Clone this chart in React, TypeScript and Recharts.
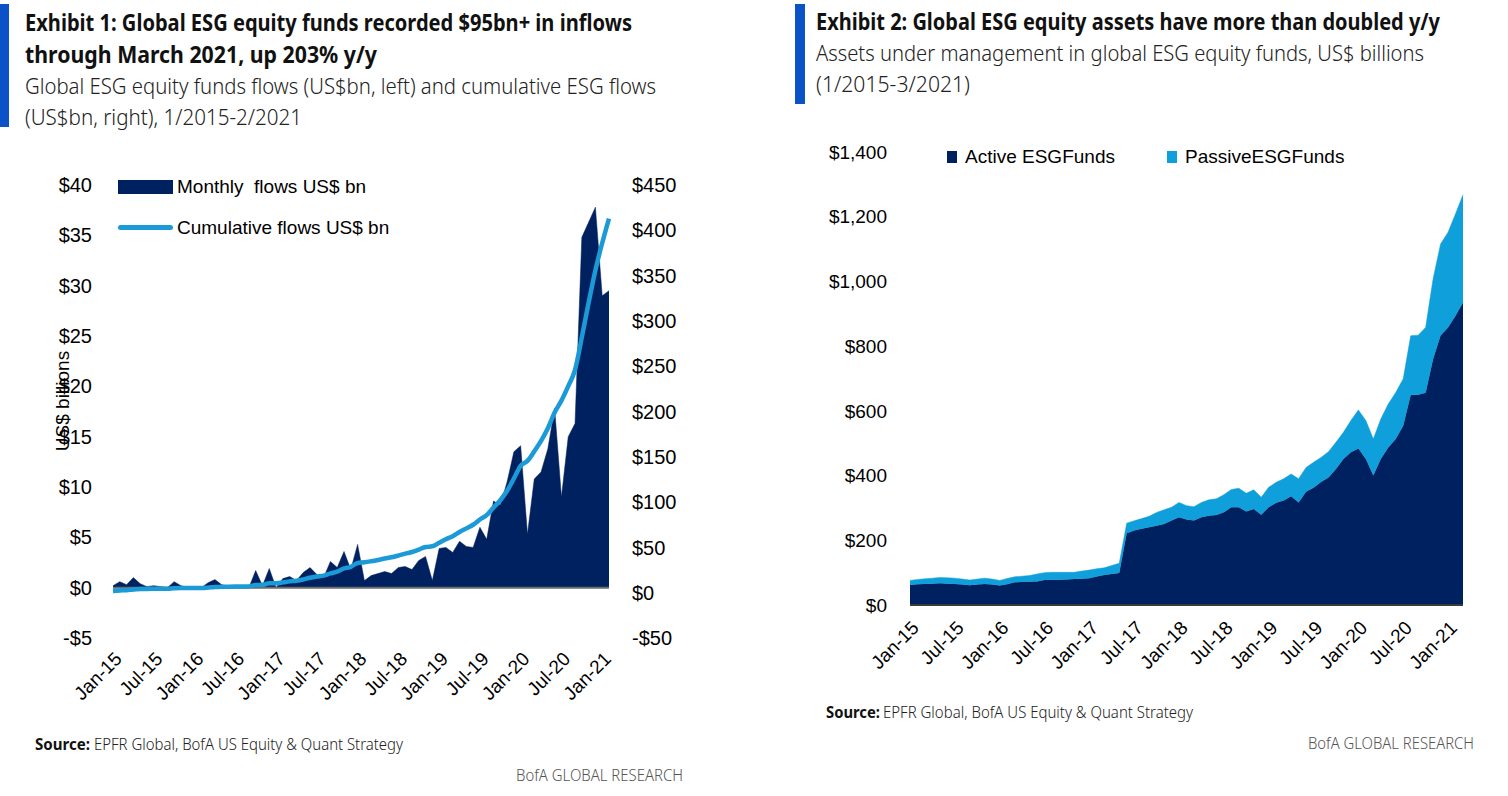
import React from 'react';
import { ComposedChart, AreaChart, Area, Line, XAxis, YAxis, ReferenceLine, Legend } from 'recharts';

const NAVY = '#00215f';
const LIGHT = '#0f9fdb';
const LINE_BLUE = '#1b9ad7';
const FONT = '"Liberation Sans", Arial, sans-serif';
const TITLE_FONT = '"Noto Sans", "Open Sans", sans-serif';

const MONTH_NAMES = ['Jan', 'Feb', 'Mar', 'Apr', 'May', 'Jun', 'Jul', 'Aug', 'Sep', 'Oct', 'Nov', 'Dec'];
const months = (count: number) =>
  Array.from({ length: count }, (_, i) => `${MONTH_NAMES[i % 12]}-${15 + Math.floor(i / 12)}`);

const TICK_LABELS = ['Jan-15', 'Jul-15', 'Jan-16', 'Jul-16', 'Jan-17', 'Jul-17', 'Jan-18', 'Jul-18', 'Jan-19', 'Jul-19', 'Jan-20', 'Jul-20', 'Jan-21'];

// Exhibit 1: Jan-15 .. Feb-21
const FLOW_MONTHS = months(74);
const MONTHLY_FLOWS = [
  0.2, 0.6, 0.3, 1.0, 0.4, 0.1, 0.2, 0.1, 0.0, 0.6,
  0.2, 0.0, 0.0, 0.0, 0.5, 0.8, 0.3, 0.1, 0.1, 0.1,
  0.0, 1.7, 0.2, 1.9, 0.0, 0.9, 1.1, 0.7, 1.5, 2.0,
  1.3, 1.0, 2.6, 2.0, 3.6, 1.8, 4.3, 0.7, 1.2, 1.4,
  1.6, 1.4, 2.0, 2.1, 1.8, 2.7, 3.1, 0.7, 3.9, 4.0,
  3.5, 4.6, 4.1, 4.0, 6.0, 4.8, 8.6, 8.2, 10.5, 13.5,
  14.1, 5.3, 10.8, 11.5, 13.8, 17.8, 9.0, 15.0, 16.3, 34.8,
  36.3, 37.8, 29.0, 29.5,
];
const CUMULATIVE_FLOWS = [
  2.0, 2.5, 2.8, 3.6, 4.0, 4.1, 4.3, 4.4, 4.4, 4.9,
  5.1, 5.1, 5.1, 5.1, 5.6, 6.3, 6.6, 6.7, 6.8, 6.9,
  6.9, 8.5, 8.7, 10.5, 10.5, 11.4, 12.5, 13.2, 14.6, 16.5,
  17.8, 18.8, 21.3, 23.3, 26.8, 28.6, 32.8, 33.5, 34.7, 36.1,
  37.7, 39.1, 41.0, 43.1, 44.9, 47.5, 50.5, 51.2, 55.0, 59.0,
  62.4, 67.0, 71.0, 75.0, 80.8, 85.6, 94.0, 102.0, 112.5, 126.0,
  140.0, 145.5, 156.0, 167.5, 181.5, 199.0, 212.0, 228.0, 246.0, 282.0,
  320.0, 356.0, 386.0, 413.0,
];
const FLOW_TICKS = [-5, 0, 5, 10, 15, 20, 25, 30, 35, 40];
const CUM_TICKS = [-50, 0, 50, 100, 150, 200, 250, 300, 350, 400, 450];

// Exhibit 2: Jan-15 .. Mar-21
const AUM_MONTHS = months(75);
const ACTIVE_AUM = [
  62, 64, 65, 66, 67, 66, 65, 63, 61, 63,
  65, 63, 60, 64, 70, 71, 72, 73, 77, 78,
  78, 79, 80, 81, 83, 88, 93, 96, 99, 222,
  230, 236, 240, 245, 250, 261, 271, 264, 261, 271,
  276, 278, 287, 302, 302, 289, 297, 279, 302, 316,
  323, 336, 317, 350, 362, 380, 394, 420, 451, 472,
  484, 451, 400, 451, 487, 513, 554, 649, 650, 656,
  760, 833, 858, 894, 935,
];
const PASSIVE_AUM = [
  14, 15, 16, 17, 18, 18, 18, 17, 16, 17,
  18, 17, 16, 18, 17, 18, 19, 23, 23, 23,
  23, 22, 21, 24, 25, 24, 22, 26, 30, 31,
  30, 31, 34, 41, 44, 41, 46, 43, 43, 46,
  49, 50, 54, 55, 59, 56, 59, 54, 62, 63,
  67, 69, 73, 75, 79, 76, 80, 83, 83, 98,
  119, 119, 113, 124, 134, 144, 145, 183, 184, 202,
  248, 283, 294, 315, 333,
];
const AUM_TICKS = [0, 200, 400, 600, 800, 1000, 1200, 1400];

const flowData = FLOW_MONTHS.map((m, i) => ({ m, flow: MONTHLY_FLOWS[i], cum: CUMULATIVE_FLOWS[i] }));
const aumData = AUM_MONTHS.map((m, i) => ({ m, active: ACTIVE_AUM[i], passive: PASSIVE_AUM[i] }));

const dollar = (v: number) => (v < 0 ? `-$${Math.abs(v).toLocaleString('en-US')}` : `$${v.toLocaleString('en-US')}`);

const DiagTick = (props: any) => {
  const { x, y, payload, size } = props;
  return (
    <g transform={`translate(${x},${y})`}>
      <text transform="rotate(-45)" x={0} y={0} dy={size * 0.75} textAnchor="end" fontSize={size} fill="#000" fontFamily={FONT}>
        {payload.value}
      </text>
    </g>
  );
};

// area swatch first, line second, as in the original legend
const FlowLegend = (props: any) => {
  const items = [...(props.payload || [])].sort((a: any, b: any) => (a.type === 'line' ? 1 : 0) - (b.type === 'line' ? 1 : 0));
  return (
    <div style={{ fontFamily: FONT, fontSize: 19, color: '#000' }}>
      {items.map((it: any) => (
        <div key={it.value} style={{ display: 'flex', alignItems: 'center', height: 41 }}>
          {it.type === 'line' ? (
            <span style={{ display: 'inline-block', width: 55, height: 5, borderRadius: 3, background: it.color, marginRight: 4 }} />
          ) : (
            <span style={{ display: 'inline-block', width: 55, height: 14, background: it.color, marginRight: 4 }} />
          )}
          <span style={{ whiteSpace: 'pre' }}>{it.value}</span>
        </div>
      ))}
    </div>
  );
};

const AumLegend = (props: any) => {
  const items = props.payload || [];
  return (
    <div style={{ fontFamily: FONT, fontSize: 19, color: '#000', display: 'flex' }}>
      {items.map((it: any, i: number) => (
        <div key={it.value} style={{ display: 'flex', alignItems: 'center', marginRight: i === 0 ? 52 : 0 }}>
          <span style={{ display: 'inline-block', width: 10, height: 12, background: it.color, marginRight: 8 }} />
          <span>{it.value}</span>
        </div>
      ))}
    </div>
  );
};

// condensed heading text: squeezed horizontally to the width it has in the original
const T = (p: any) => {
  const { x, y, len, size, weight, fill, children } = p;
  const sx = weight >= 700 ? 0.75 : 0.8;
  return (
    <g transform={`translate(${x},${y}) scale(${sx},1)`}>
      <text x={0} y={0} textLength={len / sx} lengthAdjust="spacingAndGlyphs" fontSize={size} fontWeight={weight}
        fill={fill} fontFamily={TITLE_FONT}>
        {children}
      </text>
    </g>
  );
};

export default function App() {
  return (
    <div style={{ position: 'absolute', left: 0, top: 0, width: 1508, height: 796, background: '#fff', overflow: 'hidden' }}>
      <div style={{ position: 'absolute', left: 0, top: 0 }}>
        <ComposedChart width={700} height={796} data={flowData} margin={{ top: 185, right: 0, bottom: 0, left: 0 }}>
          <XAxis dataKey="m" ticks={TICK_LABELS} interval={0} height={158} axisLine={false} tickLine={false}
            tickMargin={6} tick={<DiagTick size={19} />} />
          <YAxis yAxisId="left" width={113} domain={[-5, 40]} ticks={FLOW_TICKS} tickFormatter={dollar}
            axisLine={false} tickLine={false} tickMargin={15} tick={{ fontSize: 20, fill: '#000', fontFamily: FONT }} />
          <YAxis yAxisId="right" orientation="right" width={91} domain={[-50, 450]} ticks={CUM_TICKS} tickFormatter={dollar}
            axisLine={false} tickLine={false} tickMargin={17} tick={{ fontSize: 20, fill: '#000', fontFamily: FONT, textAnchor: 'start' }} />
          <Legend layout="vertical" align="center" verticalAlign="middle" content={<FlowLegend />}
            wrapperStyle={{ top: 166, left: 118, width: 320, height: 90 }} />
          <Area yAxisId="left" type="linear" dataKey="flow" name="Monthly  flows US$ bn" fill={NAVY} stroke={NAVY}
            strokeWidth={0.5} fillOpacity={1} isAnimationActive={false} legendType="rect" />
          <ReferenceLine yAxisId="left" y={0} stroke="#6b6b6b" strokeWidth={2} />
          <Line yAxisId="right" type="monotone" dataKey="cum" name="Cumulative flows US$ bn" stroke={LINE_BLUE}
            strokeWidth={4.5} dot={false} isAnimationActive={false} legendType="line" />
        </ComposedChart>
      </div>

      <div style={{ position: 'absolute', left: 790, top: 0 }}>
        <AreaChart width={718} height={796} data={aumData} margin={{ top: 152, right: 45, bottom: 0, left: 0 }}>
          <XAxis dataKey="m" ticks={TICK_LABELS} interval={0} height={191} axisLine={{ stroke: '#3a3a3a', strokeWidth: 2 }}
            tickLine={false} tickMargin={8} tick={<DiagTick size={19} />} />
          <YAxis width={120} domain={[0, 1400]} ticks={AUM_TICKS} tickFormatter={dollar} axisLine={false} tickLine={false}
            tickMargin={17} tick={{ fontSize: 19, fill: '#000', fontFamily: FONT }} />
          <Legend layout="vertical" align="center" verticalAlign="middle" content={<AumLegend />}
            wrapperStyle={{ top: 146, left: 157, width: 420, height: 26 }} />
          <Area type="linear" dataKey="active" name="Active ESGFunds" stackId="a" fill={NAVY} stroke={NAVY}
            strokeWidth={0.5} fillOpacity={1} isAnimationActive={false} legendType="square" />
          <Area type="linear" dataKey="passive" name="PassiveESGFunds" stackId="a" fill={LIGHT} stroke={LIGHT}
            strokeWidth={0.5} fillOpacity={1} isAnimationActive={false} legendType="square" />
        </AreaChart>
      </div>

      <svg width={1508} height={796} style={{ position: 'absolute', left: 0, top: 0, pointerEvents: 'none' }}>
        <rect x={0} y={4} width={9} height={123} fill="#0b52c9" />
        <rect x={795} y={4} width={10} height={100} fill="#0b52c9" />

        <T x={25} y={31} len={607} size={24} weight={700} fill="#111">Exhibit 1: Global ESG equity funds recorded $95bn+ in inflows</T>
        <T x={25} y={63} len={352} size={24} weight={700} fill="#111">through March 2021, up 203% y/y</T>
        <T x={25} y={94} len={631} size={22} weight={300} fill="#222">Global ESG equity funds flows (US$bn, left) and cumulative ESG flows</T>
        <T x={25} y={125} len={277} size={22} weight={300} fill="#222">(US$bn, right), 1/2015-2/2021</T>

        <T x={816} y={30} len={624} size={24} weight={700} fill="#111">Exhibit 2: Global ESG equity assets have more than doubled y/y</T>
        <T x={816} y={61} len={608} size={22} weight={300} fill="#222">Assets under management in global ESG equity funds, US$ billions</T>
        <T x={816} y={92} len={154} size={22} weight={300} fill="#222">(1/2015-3/2021)</T>

        <text transform="translate(69,401) rotate(-90)" textAnchor="middle" fontSize={19} fontFamily={FONT} fill="#000">US$ billions</text>

        <T x={35} y={750} len={55} size={16} weight={700} fill="#111">Source:</T>
        <T x={94} y={750} len={309} size={16} weight={300} fill="#222">EPFR Global, BofA US Equity &amp; Quant Strategy</T>
        <T x={516} y={781} len={167} size={16} weight={300} fill="#555">BofA GLOBAL RESEARCH</T>

        <T x={826} y={718} len={54} size={16} weight={700} fill="#111">Source:</T>
        <T x={883} y={718} len={310} size={16} weight={300} fill="#222">EPFR Global, BofA US Equity &amp; Quant Strategy</T>
        <T x={1308} y={749} len={166} size={16} weight={300} fill="#555">BofA GLOBAL RESEARCH</T>
      </svg>
    </div>
  );
}
